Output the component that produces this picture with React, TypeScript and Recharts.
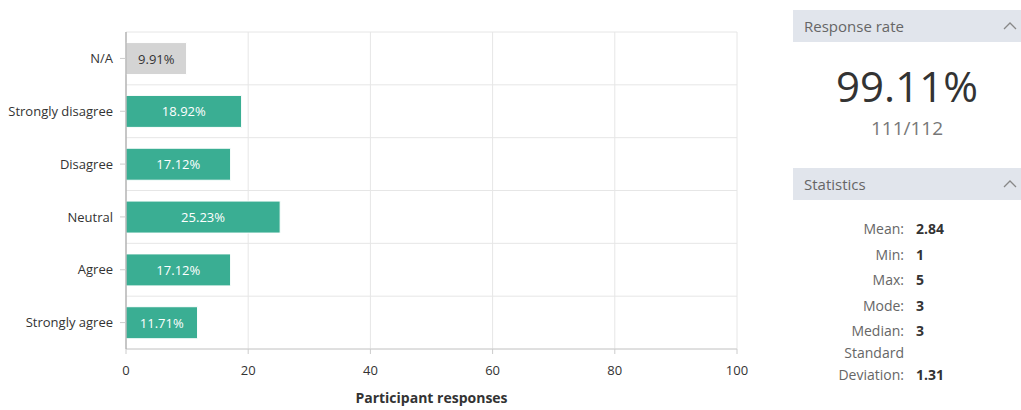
import { Bar, BarChart, CartesianGrid, Cell, Label, LabelList, XAxis, YAxis } from 'recharts'

const categories = ['N/A', 'Strongly disagree', 'Disagree', 'Neutral', 'Agree', 'Strongly agree']
const percentValues = [9.91, 18.92, 17.12, 25.23, 17.12, 11.71]
const xTicks = [0, 20, 40, 60, 80, 100]

const responseRate = '99.11%'
const responseRatio = '111/112'

const statLabels = ['Mean:', 'Min:', 'Max:', 'Mode:', 'Median:', 'Standard Deviation:']
const statValues = ['2.84', '1', '5', '3', '3', '1.31']

const TEAL = '#3aae93'
const GREY_BAR = '#d4d4d4'
const FONT = '"Open Sans", sans-serif'

const data = categories.map((name, i) => ({ name, value: percentValues[i] }))

function BarValueLabel(props: any) {
  const { x, y, width, height, value, index } = props
  const isNA = categories[index] === 'N/A'
  return (
    <text
      x={x + width / 2}
      y={y + height / 2}
      textAnchor="middle"
      dominantBaseline="central"
      fontSize={13}
      fontFamily={FONT}
      fill={isNA ? '#333333' : '#ffffff'}
    >
      {`${Number(value).toFixed(2)}%`}
    </text>
  )
}

function Chevron() {
  return (
    <svg width={14} height={10} style={{ position: 'absolute', right: 4, top: 11 }}>
      <polyline points="1,8 7,2 13,8" fill="none" stroke="#888" strokeWidth={1.3} />
    </svg>
  )
}

function PanelHeader({ title, top }: { title: string; top: number }) {
  return (
    <div
      style={{
        position: 'absolute',
        left: 793,
        top,
        width: 228,
        height: 32,
        background: '#e1e5ec',
        color: '#666',
        fontSize: 15,
        lineHeight: '32px',
        paddingLeft: 11,
        boxSizing: 'border-box',
      }}
    >
      {title}
      <Chevron />
    </div>
  )
}

export default function App() {
  return (
    <div
      style={{
        position: 'absolute',
        left: 0,
        top: 0,
        width: 1021,
        height: 410,
        background: '#fff',
        fontFamily: FONT,
        overflow: 'hidden',
      }}
    >
      <BarChart
        width={760}
        height={410}
        data={data}
        layout="vertical"
        barCategoryGap="20%"
        margin={{ top: 32, right: 23, bottom: 0, left: 0 }}
      >
        <CartesianGrid
          stroke="#e6e6e6"
          horizontalCoordinatesGenerator={({ offset }: any) =>
            categories.map((_, i) => offset.top + (i * offset.height) / categories.length).concat(offset.top + offset.height)
          }
        />
        <XAxis
          type="number"
          domain={[0, 100]}
          ticks={xTicks}
          height={61}
          tickSize={5}
          tickMargin={12}
          stroke="#cccccc"
          tick={{ fontSize: 13, fill: '#333', fontFamily: FONT }}
        >
          <Label
            value="Participant responses"
            position="insideBottom"
            offset={7}
            style={{ fontSize: 14, fontWeight: 700, fill: '#333', fontFamily: FONT }}
          />
        </XAxis>
        <YAxis
          type="category"
          dataKey="name"
          width={126}
          tickSize={6}
          tickMargin={7}
          axisLine={{ stroke: '#999999' }}
          tickLine={{ stroke: '#cccccc' }}
          tick={{ fontSize: 13, fill: '#333', fontFamily: FONT }}
        />
        <Bar dataKey="value" stroke="#ffffff" strokeWidth={1} isAnimationActive={false}>
          {data.map(d => (
            <Cell key={d.name} fill={d.name === 'N/A' ? GREY_BAR : TEAL} />
          ))}
          <LabelList dataKey="value" content={<BarValueLabel />} />
        </Bar>
      </BarChart>

      <PanelHeader title="Response rate" top={10} />
      <div
        style={{
          position: 'absolute',
          left: 793,
          width: 228,
          top: 58,
          textAlign: 'center',
          fontSize: 42,
          lineHeight: '56px',
          color: '#333',
        }}
      >
        {responseRate}
      </div>
      <div
        style={{
          position: 'absolute',
          left: 793,
          width: 228,
          top: 115,
          textAlign: 'center',
          fontSize: 19,
          lineHeight: '26px',
          color: '#777',
        }}
      >
        {responseRatio}
      </div>

      <PanelHeader title="Statistics" top={168} />
      <div style={{ position: 'absolute', left: 793, top: 215, width: 228, fontSize: 14 }}>
        {statLabels.map((label, i) => (
          <div key={label} style={{ display: 'flex', alignItems: 'flex-end', minHeight: 25.4 }}>
            <div
              style={{
                width: 123,
                textAlign: 'right',
                color: '#666',
                lineHeight: '22px',
                paddingRight: 12,
                boxSizing: 'border-box',
                ...(label.startsWith('Standard') ? { paddingLeft: 40 } : {}),
              }}
            >
              {label}
            </div>
            <div style={{ fontWeight: 700, color: '#333', lineHeight: '22px' }}>{statValues[i]}</div>
          </div>
        ))}
      </div>
    </div>
  )
}
